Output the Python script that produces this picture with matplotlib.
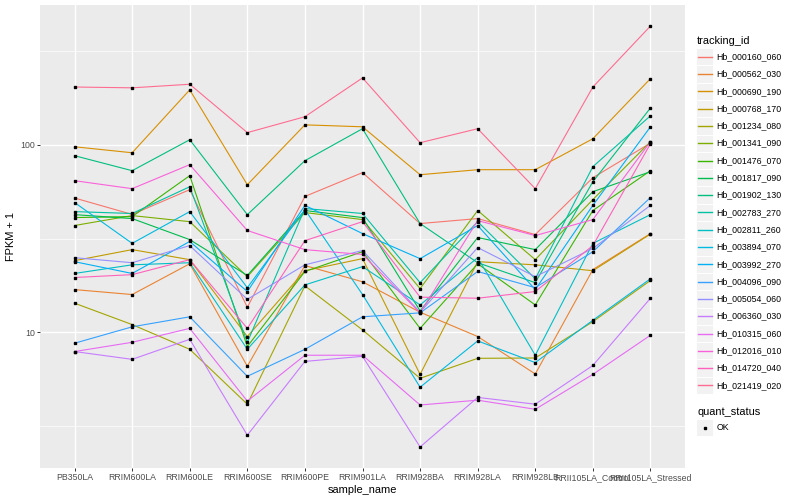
import numpy as np
import matplotlib.pyplot as plt
from matplotlib.patches import Rectangle
from matplotlib.lines import Line2D

plt.rcParams["font.family"] = ["Liberation Sans", "DejaVu Sans"]

samples = ["PB350LA", "RRIM600LA", "RRIM600LE", "RRIM600SE", "RRIM600PE",
           "RRIM901LA", "RRIM928BA", "RRIM928LA", "RRIM928LB",
           "RRII105LA_Control", "RRII105LA_Stressed"]

tracking_ids = ["Hb_000160_060", "Hb_000562_030", "Hb_000690_190", "Hb_000768_170",
                "Hb_001234_080", "Hb_001341_090", "Hb_001476_070", "Hb_001817_090",
                "Hb_001902_130", "Hb_002783_270", "Hb_002811_260", "Hb_003894_070",
                "Hb_003992_270", "Hb_004096_090", "Hb_005054_060", "Hb_006360_030",
                "Hb_010315_060", "Hb_012016_010", "Hb_014720_040", "Hb_021419_020"]

# ggplot default hue palette, 20 levels
colors = ["#F8766D", "#EA8331", "#D89000", "#C09B00", "#A3A500", "#7CAE00", "#39B600",
          "#00BB4E", "#00BF7D", "#00C1A3", "#00BFC4", "#00BAE0", "#00B0F6", "#35A2FF",
          "#9590FF", "#C77CFF", "#E76BF3", "#FA62DB", "#FF62BC", "#FF6C91"]

# FPKM + 1, one list per gene, in sample order
hb_000160 = [52, 42.5, 57.6, 13.6, 53, 71, 38.0, 40.4, 33.2, 66.7, 102]
hb_000562 = [16.9, 15.9, 23.2, 6.6, 22.7, 18.6, 12.8, 9.5, 6.0, 21.6, 33.6]
hb_000690 = [97.5, 90.6, 196, 61.2, 127.6, 124.6, 69.2, 73.6, 73.6, 107.6, 225]
hb_000768 = [24.1, 27.6, 24.4, 9.5, 21.3, 24.7, 5.97, 23.8, 22.9, 21.3, 33.4]
hb_001234 = [14.3, 11.0, 8.12, 4.14, 17.7, 10.3, 5.69, 7.27, 7.3, 11.4, 18.9]
hb_001341 = [37.1, 41.9, 38.9, 19.8, 43.5, 39.9, 17.1, 44.6, 24.4, 51.0, 103.7]
hb_001476 = [40.9, 41.4, 68.4, 8.4, 21.1, 26.9, 10.5, 23.2, 14.0, 44.6, 72.7]
hb_001817 = [42.4, 40.4, 31.2, 20.1, 44.6, 40.9, 13.0, 32.0, 27.6, 56.2, 71.8]
hb_001902 = [87.4, 72.7, 106.3, 42.4, 82.2, 121.7, 38.0, 23.5, 18.4, 63.5, 157]
hb_002783 = [44.0, 43.0, 59.7, 8.85, 45.7, 43.0, 18.4, 38.9, 19.3, 76.4, 142.6]
hb_002811 = [20.6, 22.9, 23.5, 8.12, 17.9, 22.4, 14.0, 25.0, 7.55, 29.8, 42.4]
hb_003894 = [49.2, 29.8, 44.0, 17.3, 45.1, 15.9, 5.1, 9.0, 6.9, 11.6, 19.3]
hb_003992 = [23.8, 20.6, 30.5, 16.5, 47.5, 33.6, 24.7, 37.1, 16.9, 47.5, 124.6]
hb_004096 = [8.75, 10.7, 12.1, 5.83, 8.12, 12.1, 12.7, 21.1, 17.3, 26.9, 52.3]
hb_005054 = [25.0, 23.5, 29.0, 15.0, 22.9, 27.3, 12.8, 28.3, 19.8, 28.0, 47.5]
hb_006360 = [7.9, 7.18, 9.18, 2.83, 7.0, 7.45, 2.45, 4.5, 4.14, 6.66, 15.2]
hb_010315 = [7.9, 8.85, 10.5, 4.3, 7.55, 7.55, 4.1, 4.35, 3.89, 5.97, 9.65]
hb_012016 = [64.3, 58.3, 78.3, 34.9, 27.6, 26.0, 12.7, 39.4, 32.8, 39.9, 103.7]
hb_014720 = [19.6, 20.3, 24.4, 10.5, 30.8, 38.9, 15.4, 15.2, 16.5, 29.0, 101.2]
hb_021419 = [203, 201, 210, 116, 141, 227, 102.5, 121.7, 58.3, 203, 429]

series = [hb_000160, hb_000562, hb_000690, hb_000768, hb_001234, hb_001341,
          hb_001476, hb_001817, hb_001902, hb_002783, hb_002811, hb_003894,
          hb_003992, hb_004096, hb_005054, hb_006360, hb_010315, hb_012016,
          hb_014720, hb_021419]

W, H = 800, 500
fig = plt.figure(figsize=(8, 5), dpi=100)
fx = lambda px: px / W
fy = lambda py: 1 - py / H

ax = fig.add_axes([fx(40), fy(468), fx(685) - fx(40), fy(5) - fy(468)])
ax.set_facecolor("#EBEBEB")
for s in ax.spines.values():
    s.set_visible(False)

x = np.arange(len(samples))
for vals, col in zip(series, colors):
    ax.plot(x, vals, color=col, lw=0.8, zorder=3)
for vals in series:
    ax.plot(x, vals, ls="none", marker="s", ms=2.1, color="black", zorder=4)

ax.set_yscale("log")
allv = np.log10(np.concatenate([np.asarray(v, float) for v in series]))
lo, hi = allv.min(), allv.max()
pad = (hi - lo) * 0.05
ax.set_ylim(10 ** (lo - pad), 10 ** (hi + pad))
ax.set_xlim(-0.6, len(samples) - 0.4)

ax.set_yticks([10, 100])
ax.set_yticklabels(["10", "100"])
ax.set_yticks([10 ** 0.5, 10 ** 1.5, 10 ** 2.5], minor=True)
ax.set_xticks(x)
ax.set_xticklabels(samples)

ax.grid(True, which="major", color="white", lw=1.0, zorder=0)
ax.grid(True, which="minor", axis="y", color="white", lw=0.5, zorder=0)
ax.set_axisbelow(True)
ax.tick_params(which="major", length=2, width=0.7, color="#333333",
               labelcolor="#4D4D4D", labelsize=6.3, pad=1.5)
ax.tick_params(which="minor", length=0)

ax.set_xlabel("sample_name", fontsize=7.9, labelpad=2)
ax.set_ylabel("FPKM + 1", fontsize=7.9, labelpad=3)

# legend: tracking_id
key = 17.3
fig.text(fx(697), fy(40.7), "tracking_id", fontsize=7.9, va="center", ha="left")
for i, (tid, col) in enumerate(zip(tracking_ids, colors)):
    yc = 56.7 + key * i
    fig.patches.append(Rectangle((fx(696), fy(yc + key / 2)), key / W, key / H,
                                 transform=fig.transFigure, fc="#F2F2F2", ec="white",
                                 lw=0.7, zorder=1))
    fig.lines.append(Line2D([fx(698), fx(711.5)], [fy(yc), fy(yc)],
                            transform=fig.transFigure, color=col, lw=1.0, zorder=5))
    fig.text(fx(716.7), fy(yc), tid, fontsize=6.3, va="center", ha="left")

# legend: quant_status
fig.text(fx(697), fy(412), "quant_status", fontsize=7.9, va="center", ha="left")
fig.patches.append(Rectangle((fx(696), fy(427.7 + key / 2)), key / W, key / H,
                             transform=fig.transFigure, fc="#F2F2F2", ec="white",
                             lw=0.7, zorder=1))
fig.lines.append(Line2D([fx(704.6)], [fy(427.7)], transform=fig.transFigure,
                        ls="none", marker="s", ms=2.1, color="black", zorder=5))
fig.text(fx(716.7), fy(427.7), "OK", fontsize=6.3, va="center", ha="left")

fig.savefig("out.png", dpi=100)
